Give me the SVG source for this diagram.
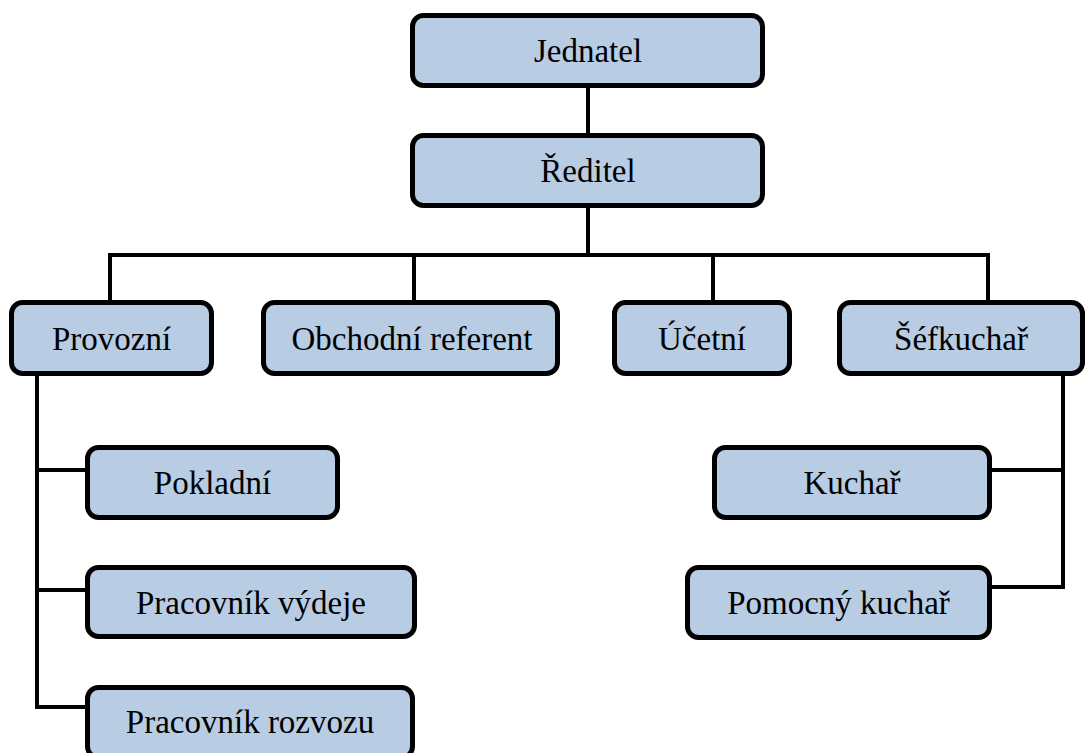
<svg xmlns="http://www.w3.org/2000/svg" width="1087" height="753" viewBox="0 0 1087 753">
<style>
.box{fill:#B8CCE4;stroke:#000;stroke-width:5}
.lbl{font-family:"Liberation Serif","Times New Roman",serif;font-size:33px;fill:#000;text-anchor:middle}
.conn{stroke:#000;stroke-width:4;fill:none}
</style>
<rect width="1087" height="753" fill="#fff"/>
<g id="connectors" class="conn">
<line x1="588" y1="88" x2="588" y2="133"/>
<line x1="588" y1="208" x2="588" y2="255"/>
<polyline points="110,300 110,255 988,255 988,300"/>
<line x1="414" y1="255" x2="414" y2="300"/>
<line x1="713" y1="255" x2="713" y2="300"/>
<polyline points="37,376 37,707 85,707"/>
<line x1="37" y1="470" x2="85" y2="470"/>
<line x1="37" y1="590" x2="85" y2="590"/>
<polyline points="1063,376 1063,587 992,587"/>
<line x1="992" y1="470" x2="1063" y2="470"/>
</g>
<g id="jednatel"><rect class="box" x="412.5" y="15.5" width="350" height="70" rx="11"/><text class="lbl" x="588" y="62">Jednatel</text></g>
<g id="reditel"><rect class="box" x="412.5" y="135.5" width="350" height="70" rx="11"/><text class="lbl" x="588" y="182">Ředitel</text></g>
<g id="provozni"><rect class="box" x="11.5" y="302.5" width="200" height="71" rx="11"/><text class="lbl" x="111.5" y="350">Provozní</text></g>
<g id="obchodni"><rect class="box" x="263.5" y="302.5" width="294" height="71" rx="11"/><text class="lbl" x="412" y="350">Obchodní referent</text></g>
<g id="ucetni"><rect class="box" x="614.5" y="302.5" width="175" height="71" rx="11"/><text class="lbl" x="702" y="350">Účetní</text></g>
<g id="sefkuchar"><rect class="box" x="839.5" y="302.5" width="243" height="71" rx="11"/><text class="lbl" x="961" y="350">Šéfkuchař</text></g>
<g id="pokladni"><rect class="box" x="87.5" y="447.5" width="250" height="70" rx="11"/><text class="lbl" x="212.5" y="494">Pokladní</text></g>
<g id="vydej"><rect class="box" x="87.5" y="567.5" width="327" height="69" rx="11"/><text class="lbl" x="251" y="614">Pracovník výdeje</text></g>
<g id="rozvoz"><rect class="box" x="87.5" y="687.5" width="325" height="70" rx="11"/><text class="lbl" x="250" y="733">Pracovník rozvozu</text></g>
<g id="kuchar"><rect class="box" x="714.5" y="447.5" width="275" height="70" rx="11"/><text class="lbl" x="852" y="494">Kuchař</text></g>
<g id="pomocny"><rect class="box" x="687.5" y="567.5" width="302" height="70" rx="11"/><text class="lbl" x="838.5" y="614">Pomocný kuchař</text></g>
</svg>
